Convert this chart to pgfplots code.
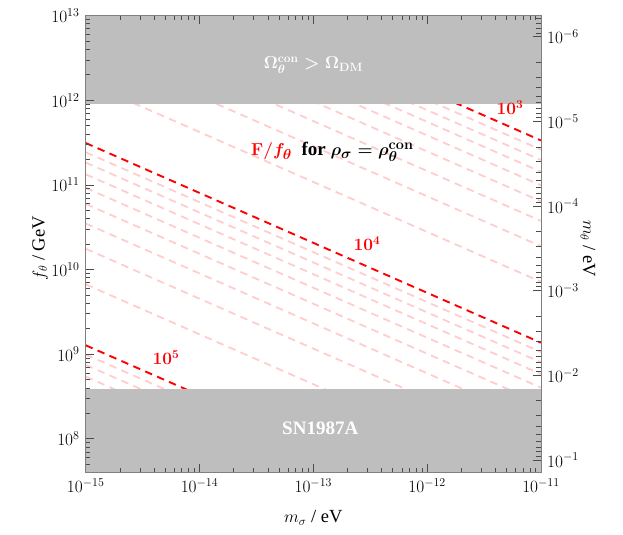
\documentclass[border=0pt]{standalone}
\usepackage{fontspec}
\setmainfont{Liberation Serif}
\usepackage{pgfplots}
\pgfplotsset{compat=1.18}
\definecolor{band}{RGB}{190,190,190}
\definecolor{faint}{RGB}{255,205,205}
\definecolor{axgray}{RGB}{128,128,128}
\begin{document}
\fontsize{18}{21}\selectfont
\begin{tikzpicture}
\begin{axis}[
 scale only axis, width=455.3pt, height=456.6pt,
 xmode=log, ymode=log,
 xmin=1e-15, xmax=1e-11, ymin=4.03e7, ymax=1e13,
 axis on top,
 axis line style={axgray, line width=0.8pt},
 tick style={black!70, line width=0.8pt},
 major tick length=8pt, minor tick length=4.5pt,
 xtick pos=both, ytick pos=left,
 tick align=inside,
 ticklabel style={font=\fontsize{18}{21}\selectfont},
 xlabel={$m_\sigma$ / eV},
 ylabel={$f_\theta$ / GeV},
 label style={font=\fontsize{18.5}{22}\selectfont},
 xlabel style={at={(axis description cs:0.5,-0.1)}, anchor=center},
 ylabel style={at={(axis description cs:-0.1,0.491)}, anchor=center},
]
% faint lines
\pgfplotsset{fl/.style={faint, line width=1.8pt, dash pattern=on 7.5pt off 5.5pt}}
\addplot[fl] coordinates {(1e-15,1.643e12) (1e-11,7.17e9)};
\addplot[fl] coordinates {(1e-15,4.33e12) (1e-11,1.89e10)};
\addplot[fl] coordinates {(1e-15,8.61e12) (1e-11,3.76e10)};
\addplot[fl] coordinates {(1e-15,1.467e13) (1e-11,6.40e10)};
\addplot[fl] coordinates {(1e-15,2.27e13) (1e-11,9.90e10)};
\addplot[fl] coordinates {(1e-15,3.28e13) (1e-11,1.431e11)};
\addplot[fl] coordinates {(1e-15,4.51e13) (1e-11,1.97e11)};
\addplot[fl] coordinates {(1e-15,5.98e13) (1e-11,2.61e11)};
\addplot[fl] coordinates {(1e-15,6.693e9) (1e-11,2.92e7)};
\addplot[fl] coordinates {(1e-15,1.763e10) (1e-11,7.70e7)};
\addplot[fl] coordinates {(1e-15,3.507e10) (1e-11,1.53e8)};
\addplot[fl] coordinates {(1e-15,5.976e10) (1e-11,2.61e8)};
\addplot[fl] coordinates {(1e-15,9.24e10) (1e-11,4.03e8)};
\addplot[fl] coordinates {(1e-15,1.336e11) (1e-11,5.83e8)};
\addplot[fl] coordinates {(1e-15,1.838e11) (1e-11,8.03e8)};
\addplot[fl] coordinates {(1e-15,2.435e11) (1e-11,1.063e9)};
\addplot[fl] coordinates {(1e-15,2.435e8) (1e-11,1.06e6)};
\addplot[fl] coordinates {(1e-15,3.764e8) (1e-11,1.64e6)};
\addplot[fl] coordinates {(1e-15,5.441e8) (1e-11,2.38e6)};
\addplot[fl] coordinates {(1e-15,7.488e8) (1e-11,3.27e6)};
\addplot[fl] coordinates {(1e-15,9.922e8) (1e-11,4.33e6)};
% bold lines
\pgfplotsset{bl/.style={red, line width=1.9pt, dash pattern=on 7.5pt off 5.5pt}}
\addplot[bl] coordinates {(1e-15,7.69e13) (1e-11,3.357e11)};
\addplot[bl] coordinates {(1e-15,3.133e11) (1e-11,1.368e9)};
\addplot[bl] coordinates {(1e-15,1.276e9) (1e-11,5.57e6)};
% excluded bands
\addplot[fill=band, draw=none] coordinates {(1e-15,9.12e11) (1e-11,9.12e11) (1e-11,1e13) (1e-15,1e13)} -- cycle;
\addplot[fill=band, draw=none] coordinates {(1e-15,1e7) (1e-11,1e7) (1e-11,3.89e8) (1e-15,3.89e8)} -- cycle;
% texts
\node[text=white, font=\fontsize{18.5}{22}\selectfont\bfseries\boldmath] at (axis cs:1e-13,2.6e12) {$\Omega_\theta^{\mathbf{con}} > \Omega_{\mathbf{DM}}$};
\node[text=white, font=\fontsize{19}{22}\selectfont\bfseries] at (axis cs:1.15e-13,1.35e8) {SN1987A};
\node[font=\fontsize{19}{22}\selectfont\bfseries\boldmath] at (axis cs:1.47e-13,2.47e11) {\textcolor{red}{$\mathbf{F}/f_\theta$}\ \ for $\rho_\sigma = \rho_\theta^{\mathbf{con}}$};
\node[text=red, font=\fontsize{17.5}{20}\selectfont\bfseries\boldmath] at (axis cs:5.35e-12,8.2e11) {$\mathbf{10^3}$};
\node[text=red, font=\fontsize{17.5}{20}\selectfont\bfseries\boldmath] at (axis cs:2.96e-13,2.02e10) {$\mathbf{10^4}$};
\node[text=red, font=\fontsize{17.5}{20}\selectfont\bfseries\boldmath] at (axis cs:5.07e-15,9.06e8) {$\mathbf{10^5}$};
\coordinate (sw) at (rel axis cs:0,0);
\coordinate (ne) at (rel axis cs:1,1);
\end{axis}
\begin{axis}[
 scale only axis, width=455.3pt, height=456.6pt,
 xmode=log, ymode=log,
 xmin=1e-15, xmax=1e-11, ymin=5.62e-7, ymax=0.1396,
 y dir=reverse,
 hide x axis,
 axis y line*=right,
 y axis line style={-, axgray, line width=0.8pt},
 tick style={black!70, line width=0.8pt},
 major tick length=8pt, minor tick length=4.5pt,
 tick align=inside,
 ticklabel style={font=\fontsize{18}{21}\selectfont},
 ylabel={$m_\theta$ / eV},
 label style={font=\fontsize{18.5}{22}\selectfont},
 ylabel style={at={(axis description cs:1.103,0.49)}, anchor=center, rotate=180},
]
\addplot[draw=none] coordinates {(1e-13,1e-3)};
\end{axis}
\pgfresetboundingbox
\path[use as bounding box] ([shift={(-85.7pt,-62.7pt)}]sw) rectangle ([shift={(82pt,15.7pt)}]ne);
\end{tikzpicture}
\end{document}
